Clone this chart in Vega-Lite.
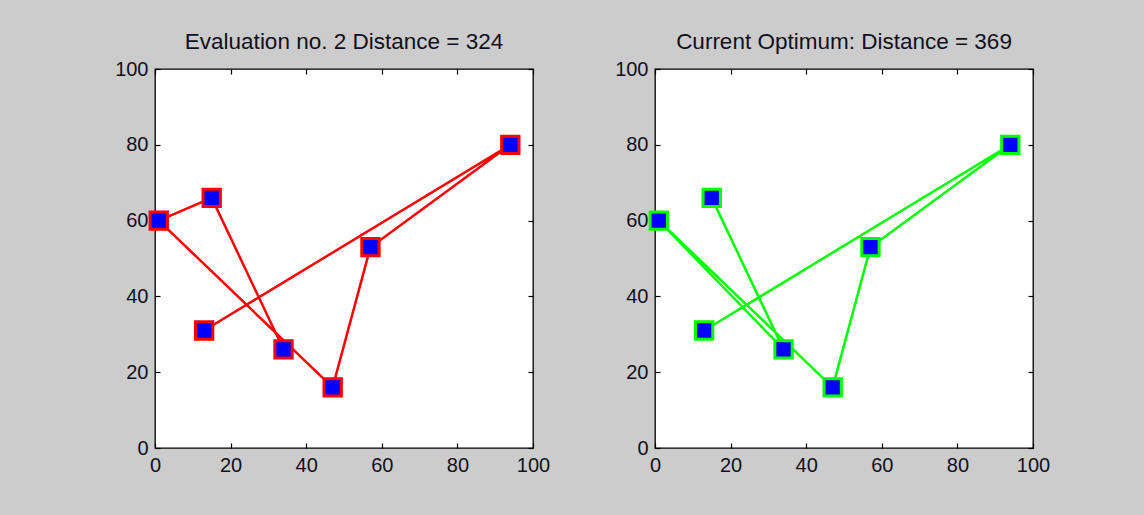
{
  "$schema": "https://vega.github.io/schema/vega-lite/v6.json",
  "background": "#cccccc",
  "padding": {"left": 113, "top": 29, "right": 94, "bottom": 40},
  "spacing": 62,
  "config": {
    "view": {"stroke": "black", "strokeWidth": 1.3, "fill": "white"},
    "font": "Liberation Sans",
    "axis": {"grid": false, "domain": false, "tickColor": "black", "tickSize": -5, "tickWidth": 1.2, "labelFont": "Liberation Sans", "labelFontSize": 20, "labelColor": "#101020", "labelPadding": 12, "labelFlush": false, "labelOverlap": false, "title": null},
    "title": {"font": "Liberation Sans", "fontSize": 22.5, "fontWeight": "normal", "color": "#101020", "anchor": "middle", "offset": 6}
  },
  "datasets": {
    "tours": [
      {"panel": "eval", "order": 1, "x": 13, "y": 31},
      {"panel": "eval", "order": 2, "x": 94, "y": 80},
      {"panel": "eval", "order": 3, "x": 57, "y": 53},
      {"panel": "eval", "order": 4, "x": 47, "y": 16},
      {"panel": "eval", "order": 5, "x": 1, "y": 60},
      {"panel": "eval", "order": 6, "x": 15, "y": 66},
      {"panel": "eval", "order": 7, "x": 34, "y": 26},
      {"panel": "best", "order": 1, "x": 13, "y": 31},
      {"panel": "best", "order": 2, "x": 94, "y": 80},
      {"panel": "best", "order": 3, "x": 57, "y": 53},
      {"panel": "best", "order": 4, "x": 47, "y": 16},
      {"panel": "best", "order": 5, "x": 1, "y": 60},
      {"panel": "best", "order": 6, "x": 34, "y": 26},
      {"panel": "best", "order": 7, "x": 15, "y": 66}
    ]
  },
  "hconcat": [
    {
      "width": 378,
      "height": 379,
      "title": "Evaluation no. 2 Distance = 324",
      "data": {"name": "tours"},
      "transform": [{"filter": "datum.panel === 'eval'"}],
      "resolve": {"axis": {"x": "independent", "y": "independent"}},
      "layer": [
        {
          "mark": {"type": "line", "color": "#ff0000", "strokeWidth": 2.5},
          "encoding": {
            "x": {"field": "x", "type": "quantitative", "scale": {"domain": [0, 100], "nice": false}, "axis": {"orient": "bottom", "values": [0, 20, 40, 60, 80, 100]}},
            "y": {"field": "y", "type": "quantitative", "scale": {"domain": [0, 100], "nice": false}, "axis": {"orient": "left", "values": [0, 20, 40, 60, 80, 100]}},
            "order": {"field": "order", "type": "quantitative"}
          }
        },
        {
          "mark": {"type": "point", "shape": "square", "filled": true, "fill": "#0000ff", "stroke": "#ff0000", "strokeWidth": 3, "size": 300, "opacity": 1},
          "encoding": {
            "x": {"field": "x", "type": "quantitative", "axis": {"orient": "top", "labels": false, "values": [0, 20, 40, 60, 80, 100]}},
            "y": {"field": "y", "type": "quantitative", "axis": {"orient": "right", "labels": false, "values": [0, 20, 40, 60, 80, 100]}}
          }
        }
      ]
    },
    {
      "width": 378,
      "height": 379,
      "title": "Current Optimum: Distance = 369",
      "data": {"name": "tours"},
      "transform": [{"filter": "datum.panel === 'best'"}],
      "resolve": {"axis": {"x": "independent", "y": "independent"}},
      "layer": [
        {
          "mark": {"type": "line", "color": "#00ff00", "strokeWidth": 2.5},
          "encoding": {
            "x": {"field": "x", "type": "quantitative", "scale": {"domain": [0, 100], "nice": false}, "axis": {"orient": "bottom", "values": [0, 20, 40, 60, 80, 100]}},
            "y": {"field": "y", "type": "quantitative", "scale": {"domain": [0, 100], "nice": false}, "axis": {"orient": "left", "values": [0, 20, 40, 60, 80, 100]}},
            "order": {"field": "order", "type": "quantitative"}
          }
        },
        {
          "mark": {"type": "point", "shape": "square", "filled": true, "fill": "#0000ff", "stroke": "#00ff00", "strokeWidth": 3, "size": 300, "opacity": 1},
          "encoding": {
            "x": {"field": "x", "type": "quantitative", "axis": {"orient": "top", "labels": false, "values": [0, 20, 40, 60, 80, 100]}},
            "y": {"field": "y", "type": "quantitative", "axis": {"orient": "right", "labels": false, "values": [0, 20, 40, 60, 80, 100]}}
          }
        }
      ]
    }
  ]
}
